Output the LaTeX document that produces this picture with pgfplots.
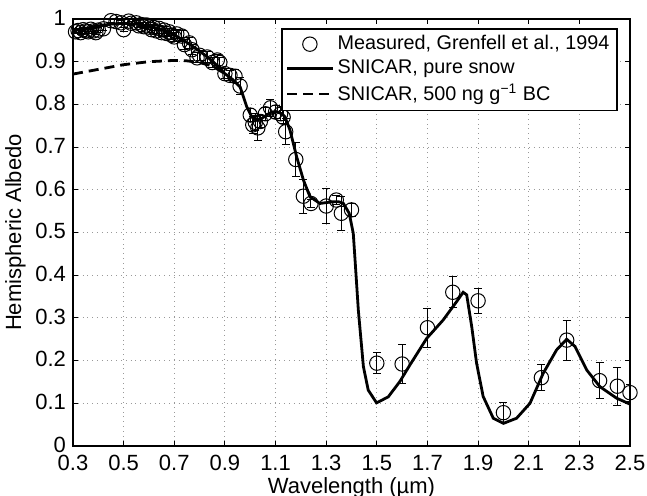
\documentclass[border=0pt]{standalone}
\usepackage{pgfplots}
\pgfplotsset{compat=1.18}
\usepackage{pgfplotstable}
\usepackage{fontspec}
\setmainfont{Liberation Sans}

% measured albedo (Grenfell et al., 1994)
\pgfplotstableread{
x y e
0.31 0.970 0.005
0.32 0.973 0.005
0.33 0.968 0.005
0.34 0.975 0.005
0.35 0.972 0.005
0.36 0.970 0.005
0.37 0.976 0.005
0.38 0.972 0.005
0.39 0.968 0.005
0.40 0.974 0.005
0.42 0.977 0.005
0.45 0.996 0.005
0.47 0.994 0.005
0.49 0.991 0.005
0.50 0.975 0.005
0.52 0.995 0.005
0.53 0.990 0.005
0.55 0.991 0.005
0.56 0.984 0.005
0.57 0.987 0.005
0.58 0.982 0.005
0.59 0.986 0.005
0.60 0.981 0.006
0.61 0.975 0.006
0.62 0.980 0.006
0.63 0.972 0.006
0.64 0.978 0.006
0.65 0.968 0.008
0.66 0.974 0.008
0.67 0.966 0.008
0.68 0.970 0.008
0.69 0.962 0.010
0.70 0.958 0.010
0.71 0.965 0.010
0.73 0.960 0.012
0.74 0.940 0.012
0.76 0.944 0.012
0.77 0.928 0.012
0.79 0.909 0.012
0.80 0.915 0.012
0.83 0.911 0.012
0.85 0.898 0.012
0.87 0.904 0.012
0.88 0.898 0.012
0.90 0.872 0.012
0.92 0.868 0.012
0.94 0.866 0.015
0.96 0.843 0.020
1.00 0.775 0.015
1.01 0.752 0.020
1.02 0.758 0.020
1.03 0.745 0.030
1.04 0.760 0.015
1.06 0.778 0.015
1.08 0.792 0.020
1.10 0.782 0.015
1.12 0.778 0.015
1.13 0.770 0.015
1.14 0.736 0.030
1.18 0.671 0.040
1.21 0.585 0.040
1.24 0.568 0.010
1.30 0.562 0.040
1.34 0.576 0.010
1.36 0.545 0.040
1.40 0.553 0.015
1.50 0.194 0.025
1.60 0.192 0.046
1.70 0.277 0.046
1.80 0.360 0.036
1.90 0.340 0.029
2.00 0.078 0.024
2.15 0.160 0.030
2.25 0.248 0.047
2.38 0.153 0.042
2.45 0.140 0.044
2.50 0.125 0.020
}\measured

% SNICAR, pure snow
\pgfplotstableread{
x y
0.30 0.972
0.35 0.978
0.40 0.984
0.45 0.988
0.50 0.990
0.55 0.988
0.60 0.983
0.65 0.975
0.70 0.963
0.75 0.945
0.80 0.925
0.85 0.902
0.90 0.872
0.93 0.858
0.96 0.841
0.986 0.795
1.006 0.771
1.026 0.763
1.045 0.767
1.065 0.775
1.085 0.782
1.105 0.783
1.125 0.778
1.137 0.771
1.157 0.740
1.183 0.678
1.21 0.623
1.236 0.584
1.275 0.568
1.30 0.570
1.328 0.572
1.35 0.572
1.368 0.568
1.391 0.545
1.407 0.498
1.414 0.436
1.427 0.318
1.447 0.186
1.466 0.131
1.499 0.101
1.545 0.115
1.591 0.151
1.631 0.190
1.697 0.252
1.762 0.295
1.815 0.338
1.841 0.360
1.855 0.354
1.875 0.279
1.894 0.194
1.92 0.116
1.96 0.065
2.00 0.053
2.052 0.065
2.105 0.100
2.157 0.170
2.21 0.225
2.25 0.250
2.283 0.233
2.329 0.178
2.381 0.139
2.447 0.112
2.50 0.098
}\pure

% SNICAR, 500 ng/g BC (joins the pure snow curve in the NIR)
\pgfplotstableread{
x y
0.30 0.871
0.40 0.882
0.50 0.893
0.60 0.900
0.70 0.903
0.75 0.902
0.80 0.898
0.85 0.890
0.90 0.872
0.93 0.858
0.96 0.841
}\bc

\begin{document}
\begin{tikzpicture}
\begin{axis}[
  at={(0,0)}, anchor=south west,
  scale only axis,
  width=278.5pt, height=213.5pt,
  xmin=0.3, xmax=2.5, ymin=0, ymax=1,
  xtick={0.3,0.5,0.7,0.9,1.1,1.3,1.5,1.7,1.9,2.1,2.3,2.5},
  ytick={0,0.1,0.2,0.3,0.4,0.5,0.6,0.7,0.8,0.9,1},
  xticklabel style={/pgf/number format/fixed,/pgf/number format/precision=1, yshift=-1.2pt},
  yticklabel style={/pgf/number format/fixed,/pgf/number format/precision=1, yshift=0.6pt},
  /pgf/number format/assume math mode=true,
  tick align=inside,
  major tick length=2.5pt,
  axis line style={line width=0.6pt},
  tick style={line width=0.5pt, black},
  grid=major,
  grid style={dotted, gray!80, line width=0.5pt},
  ticklabel style={font=\fontsize{11}{12}\selectfont},
  xlabel={Wavelength (µm)},
  ylabel={Hemispheric Albedo},
  label style={font=\fontsize{11}{12}\selectfont},
  xlabel style={yshift=3.8pt},
  ylabel style={yshift=-2pt},
  legend cell align=left,
  legend style={
    at={(1,1)}, anchor=north east, xshift=-6pt, yshift=-4.5pt,
    font=\fontsize{9.9}{11}\selectfont,
    draw=black, line width=0.9pt,
    inner xsep=2pt, inner ysep=1.5pt,
    nodes={inner sep=1.8pt},
  },
  legend image code/.code={
    \draw[mark repeat=2, mark phase=2, #1]
      plot coordinates {(0cm,0cm) (0.4cm,0cm) (0.8cm,0cm)};
  },
]
\addplot[
  only marks, black, mark=o, mark size=3.6pt,
  mark options={line width=0.5pt},
  error bars/.cd, y dir=both, y explicit,
  error bar style={line width=0.5pt, black},
  error mark options={rotate=90, mark size=2pt, line width=0.5pt, black},
] table[x=x, y=y, y error=e] {\measured};
\addplot[black, line width=1.4pt, no markers] table[x=x, y=y] {\pure};
\addplot[black, line width=1.4pt, dashed, dash pattern=on 5pt off 3pt, no markers] table[x=x, y=y] {\bc};
\legend{{Measured, Grenfell et al., 1994}, {SNICAR, pure snow}, {SNICAR, 500 ng g\textsuperscript{−1} BC}}
\end{axis}
\pgfresetboundingbox
\path[use as bounding box] (-36.5pt,-25pt) rectangle (287pt,223pt);
\end{tikzpicture}
\end{document}
